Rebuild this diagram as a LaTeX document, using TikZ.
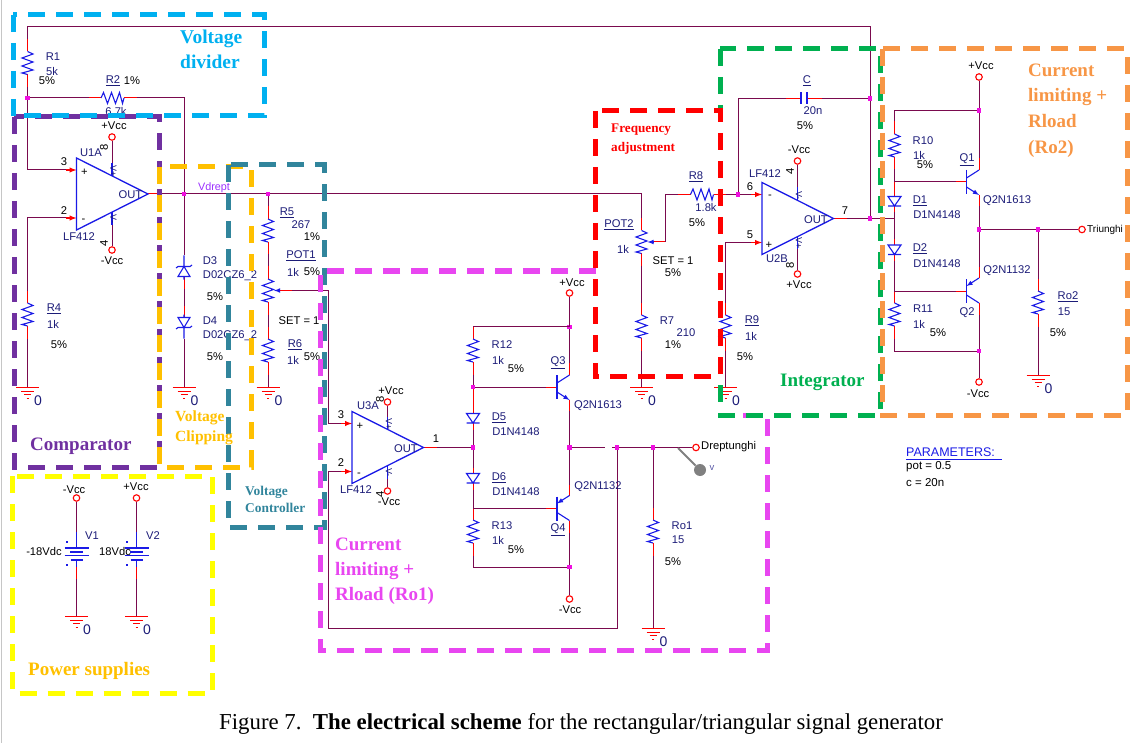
\documentclass[tikz,border=0pt]{standalone}
\usepackage{fontspec}
\setmainfont{Liberation Sans}
\newfontfamily\capfont{Liberation Serif}
\usetikzlibrary{arrows}

\definecolor{wirecol}{HTML}{7A0A4E}
\definecolor{compblue}{HTML}{1A1AE6}
\definecolor{labnavy}{HTML}{1C1C78}
\definecolor{dotcol}{HTML}{F010E0}
\definecolor{divcol}{HTML}{00B0F0}
\definecolor{cmpcol}{HTML}{7030A0}
\definecolor{clipcol}{HTML}{FFC000}
\definecolor{ctrlcol}{HTML}{31859C}
\definecolor{loadcol}{HTML}{E846F0}
\definecolor{supcol}{HTML}{FFFF00}
\definecolor{intcol}{HTML}{00B050}
\definecolor{rightcol}{HTML}{F79646}
\definecolor{netcol}{HTML}{9B30FF}

\begin{document}
\begin{tikzpicture}[x=1pt, y=-1pt,
  wire/.style={draw=wirecol, line width=1pt},
  lead/.style={draw=red, line width=1pt},
  comp/.style={draw=compblue, line width=1.1pt},
  pinlead/.style={draw=red, line width=1.4pt, ->, >=latex},
  term/.style={circle, draw=red, line width=1.1pt, fill=white, inner sep=0pt, minimum size=6.5pt},
  junc/.style={rectangle, fill=dotcol, inner sep=0pt, minimum size=4.5pt},
  lab/.style={text=labnavy, inner sep=0pt, font=\fontsize{11.2}{13}\selectfont},
  val/.style={text=black, inner sep=0pt, font=\fontsize{11.2}{13}\selectfont},
  regbox/.style={line width=5pt, dash pattern=on 17pt off 11pt},
  regtext/.style={anchor=west, inner sep=0pt, font=\capfont\bfseries\fontsize{#1}{#1}\selectfont},
  pics/resv/.style={code={
    \coordinate (-a) at (0,-24);
    \coordinate (-b) at (0,24);
    \draw[lead] (-a) -- (0,-11.5) (0,11.5) -- (-b);
    \draw[comp] (0,-11.5) -- (5.5,-9) -- (-5.5,-5) -- (5.5,-1) -- (-5.5,3) -- (5.5,7) -- (-5.5,10) -- (0,11.5);
  }},
  pics/resh/.style={code={
    \coordinate (-a) at (-24,0);
    \coordinate (-b) at (24,0);
    \draw[lead] (-a) -- (-11.5,0) (11.5,0) -- (-b);
    \draw[comp] (-11.5,0) -- (-9,-5.5) -- (-5,5.5) -- (-1,-5.5) -- (3,5.5) -- (7,-5.5) -- (10,5.5) -- (11.5,0);
  }},
  pics/potv/.style={code={
    \coordinate (-a) at (0,-24);
    \coordinate (-b) at (0,24);
    \coordinate (-w) at (24,0);
    \draw[lead] (-a) -- (0,-11.5) (0,11.5) -- (-b) (-w) -- (10,0);
    \draw[comp] (0,-11.5) -- (5.5,-9) -- (-5.5,-5) -- (5.5,-1) -- (-5.5,3) -- (5.5,7) -- (-5.5,10) -- (0,11.5);
    \draw[comp, ->, >=latex] (11,0) -- (6,0);
  }},
  pics/capac/.style={code={
    \coordinate (-a) at (-18,0);
    \coordinate (-b) at (18,0);
    \draw[lead] (-a) -- (-3,0) (3,0) -- (-b);
    \draw[comp] (-3,-6) -- (-3,6) (3,-6) -- (3,6);
  }},
  pics/diode/.style={code={
    \coordinate (-a) at (0,-11);
    \coordinate (-b) at (0,11);
    \draw[lead] (-a) -- (0,-5) (0,4.5) -- (-b);
    \draw[comp] (-6.5,-5) -- (6.5,-5) -- (0,4.5) -- cycle (-6.5,4.5) -- (6.5,4.5);
  }},
  pics/zener/.style={code={
    \coordinate (-n) at (0,-17);
    \coordinate (-k) at (0,16);
    \draw[lead] (-n) -- (0,-5);
    \draw[comp] (-6,-5) -- (6,-5) -- (0,5) -- cycle (0,5) -- (-k) (-8,6.5) -- (-6,5) -- (6,5) -- (8,3.5) (0,-5) -- (0,-8);
  }},
  pics/npn/.style={code={
    \coordinate (-b) at (-11,0);
    \coordinate (-c) at (12.5,-24);
    \coordinate (-e) at (12.5,24);
    \draw[lead] (-b) -- (0,0) (-c) -- (12.5,-12) (12.5,13) -- (-e);
    \draw[comp, line width=1.2pt] (0,-12) -- (0,12);
    \draw[comp] (0,-4) -- (12.5,-12);
    \draw[comp, ->, >=latex] (0,5) -- (12.5,13);
  }},
  pics/pnp/.style={code={
    \coordinate (-b) at (-11,0);
    \coordinate (-e) at (12.5,-24);
    \coordinate (-c) at (12.5,24);
    \draw[lead] (-b) -- (0,0) (-e) -- (12.5,-13) (12.5,12) -- (-c);
    \draw[comp, line width=1.2pt] (0,-12) -- (0,12);
    \draw[comp] (0,4) -- (12.5,12);
    \draw[comp, ->, >=latex] (12.5,-13) -- (0,-5);
  }},
  pics/opamp/.style 2 args={code={
    \coordinate (-i1) at (-11,-24);
    \coordinate (-i2) at (-11,24);
    \coordinate (-o) at (84.5,0);
    \coordinate (-vu) at (35.5,-31);
    \coordinate (-vd) at (35.5,31);
    \draw[pinlead] (-i1) -- (0,-24);
    \draw[pinlead] (-i2) -- (0,24);
    \draw[lead] (71.5,0) -- (-o);
    \draw[comp, line width=1.3pt] (0,-36) -- (0,36) -- (71.5,0) -- cycle;
    \draw[comp] (-vu) -- (35.5,-18) (-vd) -- (35.5,18);
    \node[lab] (-out) at (54,1) {OUT};
    \node[val] (-s1) at (8,-21.5) {#1};
    \node[val] (-s2) at (7,27) {#2};
    \node[lab, rotate=-90, font=\fontsize{9}{10}\selectfont] (-v1) at (37,-23) {V#1};
    \node[lab, rotate=-90, font=\fontsize{9}{10}\selectfont] (-v2) at (37,25) {V#2};
  }},
  pics/batt/.style={code={
    \coordinate (-a) at (0,-22);
    \coordinate (-b) at (0,25);
    \draw[comp] (-a) -- (0,-6) (-12,-6) -- (12,-6) (-6.5,-2) -- (6.5,-2) (-12,1.5) -- (12,1.5) (-6,6) -- (6,6) (0,6) -- (0,13);
    \draw[comp] (-10.5,-12) -- (-8.5,-12) (-10.5,11) -- (-8.5,11);
    \draw[lead] (0,13) -- (-b);
  }},
  pics/gnd/.style={code={
    \coordinate (-t) at (0,0);
    \draw[lead] (-11.5,0) -- (11.5,0) (-6.5,4) -- (6.5,4) (-3.5,7.5) -- (3.5,7.5) (-1,11) -- (1,11);
    \node[text=labnavy, inner sep=0pt, font=\fontsize{14}{14}\selectfont] (-n) at (10.5,14) {0};
  }}]

  \useasboundingbox (0,0) rectangle (1137,743);
  \draw[gray!45, line width=1.2pt] (1.5,0) -- (1.5,743);

  % Nets and junctions
  \coordinate (top-l) at (27.5,27);
  \coordinate (top-r) at (870,27);
  \coordinate (c3) at (328.5,290.5);
  \coordinate (c4) at (328.5,628);
  \coordinate (c5) at (617,628);
  \coordinate (c6) at (894.5,218.5);
  \coordinate (c7) at (894.5,110.5);
  \coordinate (cr) at (641.5,194);
  \coordinate (n1) at (894.5,182);
  \coordinate (n2) at (894.5,291);
  \coordinate (q4-n) at (473,508.5);
  \coordinate (g1) at (605,447.5);
  \coordinate (g2) at (612,447.5);
  \node[junc] (j-r1) at (27.5,98) {};
  \node[junc] (j-vd) at (184,194) {};
  \node[junc] (j-r5) at (268,194) {};
  \node[junc] (j-f) at (738,194.5) {};
  \node[junc] (j-fb) at (870,98.5) {};
  \node[junc] (j-out2) at (870,218.5) {};
  \node[junc] (j-d) at (473,447.5) {};
  \node[junc] (j-b) at (473,387) {};
  \node[junc] (j-t) at (569.5,327) {};
  \node[junc] (j-o) at (569.5,447.5) {};
  \node[junc] (j-m) at (569.5,567) {};
  \node[junc] (j-qr) at (617,447.5) {};
  \node[junc] (j-ro1) at (653,447.5) {};
  \node[junc] (j-r10) at (979,110.5) {};
  \node[junc] (j-tri) at (979,229.5) {};
  \node[junc] (j-ro2) at (1038,229.5) {};
  \node[junc] (j-m2) at (979,351) {};

  % Comparator and divider
  \pic (r1) at (27.5,63) {resv};
  \pic (r2) at (112.5,98) {resh};
  \pic (r4) at (27.5,314.5) {resv};
  \pic (u1a) at (76.5,194) {opamp={+}{-}};
  \pic (g-r4) at (27.5,387) {gnd};
  \node[term] (vcc-u1p) at (112,137) {};
  \node[term] (vcc-u1n) at (112,250) {};

  % Voltage clipping
  \pic[rotate=180] (d3) at (184,271.5) {zener};
  \pic (d4) at (184,322.5) {zener};
  \pic (g-d4) at (184,387) {gnd};

  % Voltage controller
  \pic (r5) at (268,230.5) {resv};
  \pic (pot1) at (268,290.5) {potv};
  \pic (r6) at (268,350.5) {resv};
  \pic (g-r6) at (268,387) {gnd};

  % Power supplies
  \node[term] (vcc-v1) at (76.5,498) {};
  \node[term] (vcc-v2) at (136.5,498) {};
  \pic (v1) at (76.5,554) {batt};
  \pic (v2) at (136.5,554) {batt};
  \pic (g-v1) at (76.5,616) {gnd};
  \pic (g-v2) at (136.5,616) {gnd};

  % First output stage
  \pic (u3a) at (352,447.5) {opamp={+}{-}};
  \node[term] (vcc-u3p) at (387.5,402) {};
  \node[term] (vcc-u3n) at (387.5,491) {};
  \pic (r12) at (473,350.5) {resv};
  \pic (r13) at (473,531.5) {resv};
  \pic (d5) at (473,418.5) {diode};
  \pic (d6) at (473,478.5) {diode};
  \pic (q3) at (557,387) {npn};
  \pic (q4) at (557,508.5) {pnp};
  \pic (ro1) at (653,531.5) {resv};
  \pic (g-ro1) at (653,628) {gnd};
  \node[term] (vcc-q3) at (569.5,293) {};
  \node[term] (vcc-q4) at (569.5,599) {};
  \node[term] (drept) at (696,447.5) {};

  % Frequency adjustment and integrator
  \pic (pot2) at (641.5,242) {potv};
  \pic (r7) at (641.5,326.5) {resv};
  \pic (g-r7) at (641.5,387) {gnd};
  \pic (r8) at (702,194.5) {resh};
  \pic (r9) at (725.5,326.5) {resv};
  \pic (g-r9) at (725.5,387) {gnd};
  \pic (c1) at (804,98.5) {capac};
  \pic (u2b) at (762,218.5) {opamp={-}{+}};
  \node[term] (vcc-u2n) at (797.5,161) {};
  \node[term] (vcc-u2p) at (797.5,274) {};

  % Second output stage
  \pic (r10) at (894.5,145.5) {resv};
  \pic (r11) at (894.5,314.5) {resv};
  \pic (d1) at (894.5,201.5) {diode};
  \pic (d2) at (894.5,250) {diode};
  \pic (q1) at (966.5,182) {npn};
  \pic (q2) at (966.5,291) {pnp};
  \pic (ro2) at (1038,302.5) {resv};
  \pic (g-ro2) at (1038,375) {gnd};
  \node[term] (vcc-q1) at (979,77) {};
  \node[term] (vcc-q2) at (979,382) {};
  \node[term] (tri) at (1082,229.5) {};

  \draw[wire] (r1-a) -- (top-l) -- (top-r) -- (j-fb) -- (j-out2);
  \draw[wire] (r1-b) -- (j-r1);
  \draw[wire] (j-r1) |- (u1a-i1);
  \draw[wire] (r4-a) |- (u1a-i2);
  \draw[wire] (r4-b) -- (g-r4-t);
  \draw[wire] (j-r1) -- (r2-a);
  \draw[wire] (r2-b) -| (j-vd);
  \draw[wire] (u1a-o) -- (j-vd) -- (j-r5) -- (cr) -- (pot2-a);
  \draw[wire] (vcc-u1p) -- (u1a-vu);
  \draw[wire] (vcc-u1n) -- (u1a-vd);
  \draw[wire] (j-vd) -- (d3-k);
  \draw[wire] (d3-n) -- (d4-n);
  \draw[wire] (d4-k) -- (g-d4-t);
  \draw[wire] (j-r5) -- (r5-a);
  \draw[wire] (r5-b) -- (pot1-a);
  \draw[wire] (pot1-b) -- (r6-a);
  \draw[wire] (r6-b) -- (g-r6-t);
  \draw[wire] (pot1-w) -- (c3) |- (u3a-i1);
  \draw[wire] (u3a-i2) -| (c4) -- (c5) -- (j-qr);
  \draw[wire] (vcc-v1) -- (v1-a);
  \draw[wire] (vcc-v2) -- (v2-a);
  \draw[wire] (v1-b) -- (g-v1-t);
  \draw[wire] (v2-b) -- (g-v2-t);
  \draw[wire] (vcc-u3p) -- (u3a-vu);
  \draw[wire] (vcc-u3n) -- (u3a-vd);
  \draw[wire] (u3a-o) -- (j-d);
  \draw[wire] (vcc-q3) -- (j-t) -- (q3-c);
  \draw[wire] (j-t) -- (r12-a -| j-t) -- (r12-a);
  \draw[wire] (r12-b) -- (j-b) -- (q3-b);
  \draw[lead] (j-b) -- (d5-a);
  \draw[wire] (d5-b) -- (j-d) -- (d6-a);
  \draw[wire] (d6-b) -- (q4-n) -- (q4-b);
  \draw[wire] (q4-n) -- (r13-a);
  \draw[wire] (r13-b) |- (j-m);
  \draw[wire] (q4-c) -- (j-m) -- (vcc-q4);
  \draw[wire] (q3-e) -- (j-o) -- (q4-e);
  \draw[wire] (j-o) -- (g1);
  \draw[wire] (g2) -- (j-qr) -- (j-ro1) -- (drept);
  \draw[wire] (j-ro1) -- (ro1-a);
  \draw[wire] (ro1-b) -- (g-ro1-t);
  \draw[wire] (pot2-b) -- (r7-a);
  \draw[wire] (r7-b) -- (g-r7-t);
  \draw[wire] (pot2-w) |- (r8-a);
  \draw[wire] (r8-b) -- (j-f) -- (u2b-i1);
  \draw[wire] (j-f) |- (c1-a);
  \draw[wire] (c1-b) -- (j-fb);
  \draw[wire] (u2b-i2) -| (r9-a);
  \draw[wire] (r9-b) -- (g-r9-t);
  \draw[wire] (vcc-u2n) -- (u2b-vu);
  \draw[wire] (vcc-u2p) -- (u2b-vd);
  \draw[wire] (u2b-o) -- (j-out2) -- (c6);
  \draw[wire] (vcc-q1) -- (j-r10) -- (q1-c);
  \draw[wire] (j-r10) -- (c7) -- (r10-a);
  \draw[wire] (r10-b) -- (n1) -- (q1-b);
  \draw[lead] (n1) -- (d1-a);
  \draw[wire] (d1-b) -- (d2-a);
  \draw[wire] (d2-b) -- (n2) -- (q2-b);
  \draw[wire] (n2) -- (r11-a);
  \draw[wire] (r11-b) |- (j-m2);
  \draw[wire] (q2-c) -- (j-m2) -- (vcc-q2);
  \draw[wire] (q1-e) -- (j-tri) -- (q2-e);
  \draw[wire] (j-tri) -- (j-ro2) -- (tri);
  \draw[wire] (j-ro2) -- (ro2-a);
  \draw[wire] (ro2-b) -- (g-ro2-t);

  % Probe
  \node[circle, fill=gray, inner sep=0pt, minimum size=12pt] (probe) at (700,470) {};
  \coordinate (probe-t) at (678,448);
  \draw[gray, line width=1.8pt] (probe-t) -- (probe);
  \node[text=gray!70!blue, inner sep=0pt, font=\fontsize{9.5}{10}\selectfont] (probe-v) at (712,468) {v};

  % Labels
  \node[lab] (t-r1) at (53,57) {R1};
  \node[lab] (t-r1v) at (52,71) {5k};
  \node[val] (t-r1p) at (47,81) {5\%};
  \node[lab] (t-r2) at (113,81) {\underline{R2}};
  \node[val] (t-r2p) at (132,81) {1\%};
  \node[lab] (t-r2v) at (116,111) {6.7k};
  \node[val] (t-vccu1p) at (114,126) {+Vcc};
  \node[lab] (t-u1a) at (91,153) {U1A};
  \node[val, rotate=90] (t-u18) at (104,147) {8};
  \node[val] (t-u13) at (64,162) {3};
  \node[val] (t-u12) at (64,211) {2};
  \node[lab] (t-u1l) at (79,237) {LF412};
  \node[val, rotate=90] (t-u14) at (104,243) {4};
  \node[val] (t-vccu1n) at (112,261) {-Vcc};
  \node[lab] (t-r4) at (54,309) {\underline{R4}};
  \node[lab] (t-r4v) at (53,324) {1k};
  \node[val] (t-r4p) at (59,345) {5\%};
  \node[text=netcol, inner sep=0pt, font=\fontsize{10.8}{12}\selectfont] (t-vdrept) at (214,188) {Vdrept};
  \node[lab] (t-d3) at (210,261) {D3};
  \node[lab] (t-d3v) at (230,276) {D02CZ6\_2};
  \node[val] (t-d3p) at (215,297) {5\%};
  \node[lab] (t-d4) at (210,321) {D4};
  \node[lab] (t-d4v) at (230,336) {D02CZ6\_2};
  \node[val] (t-d4p) at (215,357) {5\%};
  \node[lab] (t-r5) at (287,213) {\underline{R5}};
  \node[lab] (t-r5v) at (301,225) {267};
  \node[val] (t-r5p) at (312,237) {1\%};
  \node[lab] (t-pot1) at (301,256) {\underline{POT1}};
  \node[lab] (t-pot1v) at (293,272) {1k};
  \node[val] (t-pot1p) at (312,272) {5\%};
  \node[val] (t-set1) at (299,321) {SET = 1};
  \node[lab] (t-r6) at (295,345) {\underline{R6}};
  \node[lab] (t-r6v) at (293,360) {1k};
  \node[val] (t-r6p) at (312,357) {5\%};
  \node[val] (t-vccv1) at (74,490) {-Vcc};
  \node[val] (t-vccv2) at (136,487) {+Vcc};
  \node[lab] (t-v1) at (92,536) {V1};
  \node[lab] (t-v2) at (153,536) {V2};
  \node[val] (t-v1v) at (44,551) {-18Vdc};
  \node[val] (t-v2v) at (115,551) {18Vdc};
  \node[val] (t-vccu3p) at (391,391) {+Vcc};
  \node[lab] (t-u3a) at (368,406) {U3A};
  \node[val, rotate=90] (t-u38) at (380,399) {8};
  \node[val] (t-u33) at (341,415) {3};
  \node[val] (t-u32) at (341,463) {2};
  \node[val] (t-u31) at (436,439) {1};
  \node[lab] (t-u3l) at (356,490) {LF412};
  \node[val, rotate=90] (t-u34) at (380,494) {4};
  \node[val] (t-vccu3n) at (389,502) {-Vcc};
  \node[val] (t-vccq3) at (572,283) {+Vcc};
  \node[lab] (t-r12) at (502,345) {R12};
  \node[lab] (t-r12v) at (498,360) {1k};
  \node[val] (t-r12p) at (516,369) {5\%};
  \node[lab] (t-q3) at (558,363) {\underline{Q3}};
  \node[lab] (t-q3v) at (598,406) {Q2N1613};
  \node[lab] (t-d5) at (499,418) {\underline{D5}};
  \node[lab] (t-d5v) at (516,432) {D1N4148};
  \node[lab] (t-d6) at (499,478) {\underline{D6}};
  \node[lab] (t-d6v) at (516,492) {D1N4148};
  \node[lab] (t-q4v) at (598,487) {Q2N1132};
  \node[lab] (t-r13) at (502,526) {R13};
  \node[lab] (t-r13v) at (498,540) {1k};
  \node[val] (t-r13p) at (516,550) {5\%};
  \node[lab] (t-q4) at (558,530) {\underline{Q4}};
  \node[val] (t-vccq4) at (570,610) {-Vcc};
  \node[val, anchor=west] (t-drept) at (701,447) {Dreptunghi};
  \node[lab] (t-ro1) at (682,526) {Ro1};
  \node[lab] (t-ro1v) at (678,540) {15};
  \node[val] (t-ro1p) at (673,562) {5\%};
  \node[lab] (t-pot2) at (619,225) {\underline{POT2}};
  \node[lab] (t-pot2v) at (623,249) {1k};
  \node[val] (t-set2) at (673,261) {SET = 1};
  \node[val] (t-pot2p) at (673,273) {5\%};
  \node[lab] (t-r7) at (667,321) {R7};
  \node[lab] (t-r7v) at (686,333) {210};
  \node[val] (t-r7p) at (673,345) {1\%};
  \node[lab] (t-r8) at (696,177) {\underline{R8}};
  \node[lab] (t-r8v) at (706,207) {1.8k};
  \node[val] (t-r8p) at (697,223) {5\%};
  \node[lab] (t-r9) at (752,321) {\underline{R9}};
  \node[lab] (t-r9v) at (751,336) {1k};
  \node[val] (t-r9p) at (745,357) {5\%};
  \node[lab] (t-c) at (807,81) {\underline{C}};
  \node[lab] (t-cv) at (813,111) {20n};
  \node[val] (t-cp) at (805,126) {5\%};
  \node[val] (t-vccu2n) at (799,150) {-Vcc};
  \node[lab] (t-u2l) at (765,174) {LF412};
  \node[val, rotate=90] (t-u24) at (790,171) {4};
  \node[val] (t-u26) at (750,187) {6};
  \node[val] (t-u25) at (750,235) {5};
  \node[val] (t-u27) at (845,211) {7};
  \node[lab] (t-u2b) at (777,259) {U2B};
  \node[val, rotate=90] (t-u28) at (790,265) {8};
  \node[val] (t-vccu2p) at (799,285) {+Vcc};
  \node[val] (t-vccq1) at (981,66) {+Vcc};
  \node[lab] (t-r10) at (923,141) {R10};
  \node[lab] (t-r10v) at (919,155) {1k};
  \node[val] (t-r10p) at (925,165) {5\%};
  \node[lab] (t-q1) at (967,160) {\underline{Q1}};
  \node[lab] (t-q1v) at (1007,201) {Q2N1613};
  \node[lab] (t-d1) at (920,201) {\underline{D1}};
  \node[lab] (t-d1v) at (937,215) {D1N4148};
  \node[lab] (t-d2) at (920,249) {\underline{D2}};
  \node[lab] (t-d2v) at (937,264) {D1N4148};
  \node[val, anchor=west, font=\fontsize{10}{12}\selectfont] (t-tri) at (1087,230) {Triunghi};
  \node[lab] (t-q2v) at (1007,271) {Q2N1132};
  \node[lab] (t-r11) at (923,309) {R11};
  \node[lab] (t-r11v) at (919,324) {1k};
  \node[val] (t-r11p) at (938,333) {5\%};
  \node[lab] (t-q2) at (967,313) {Q2};
  \node[val] (t-vccq2) at (978,394) {-Vcc};
  \node[lab] (t-ro2) at (1068,297) {\underline{Ro2}};
  \node[lab] (t-ro2v) at (1064,312) {15};
  \node[val] (t-ro2p) at (1058,333) {5\%};
  \node[text=compblue, anchor=west, inner sep=0pt, font=\fontsize{12.5}{14}\selectfont] (t-par) at (906,452) {PARAMETERS:};
  \coordinate (par-a) at (906,459.5);
  \coordinate (par-b) at (1002,459.5);
  \draw[comp] (par-a) -- (par-b);
  \node[val, anchor=west, font=\fontsize{11.5}{13}\selectfont] (t-pot) at (906,467) {pot = 0.5};
  \node[val, anchor=west, font=\fontsize{11.5}{13}\selectfont] (t-cval) at (906,483) {c = 20n};

  % Functional blocks
  \draw[regbox, cmpcol] (14,117) rectangle (159,467);
  \draw[regbox, divcol] (13,15) rectangle (264,116);
  \draw[regbox, clipcol] (159,167) rectangle (251,467);
  \draw[regbox, ctrlcol] (228,165) rectangle (324,527);
  \draw[regbox, loadcol] (596,271) -- (320,271) -- (320,650) -- (767,650) -- (767,415) -- (721,415);
  \draw[regbox, supcol] (12.5,476) rectangle (212,693);
  \draw[regbox, intcol] (720,49) rectangle (880,415);
  \draw[regbox, red] (595,111) rectangle (720,376);
  \draw[regbox, rightcol] (882,49) rectangle (1127,415);

  \node[regtext=19.5, divcol] (b-div1) at (180,39) {Voltage};
  \node[regtext=19.5, divcol] (b-div2) at (180,62) {divider};
  \node[regtext=19, cmpcol] (b-cmp) at (30,446) {Comparator};
  \node[regtext=15.5, clipcol] (b-clip1) at (175,418) {Voltage};
  \node[regtext=15.5, clipcol] (b-clip2) at (175,438) {Clipping};
  \node[regtext=13.4, ctrlcol] (b-ctrl1) at (245,492) {Voltage};
  \node[regtext=13.4, ctrlcol] (b-ctrl2) at (245,508) {Controller};
  \node[regtext=19, clipcol] (b-sup) at (28,671) {Power supplies};
  \node[regtext=19, loadcol] (b-load1) at (335,544) {Current};
  \node[regtext=19, loadcol] (b-load2) at (335,571) {limiting +};
  \node[regtext=19, loadcol] (b-load3) at (335,596) {Rload (Ro1)};
  \node[regtext=13.2, red] (b-freq1) at (611,130) {Frequency};
  \node[regtext=13.2, red] (b-freq2) at (611,148) {adjustment};
  \node[regtext=19, intcol] (b-int) at (780,382) {Integrator};
  \node[regtext=19, rightcol] (b-right1) at (1028,70) {Current};
  \node[regtext=19, rightcol] (b-right2) at (1028,97) {limiting +};
  \node[regtext=19, rightcol] (b-right3) at (1028,121) {Rload};
  \node[regtext=19, rightcol] (b-right4) at (1028,149) {(Ro2)};

  \node[anchor=west, inner sep=0pt, font=\capfont\fontsize{22.8}{24}\selectfont] (caption) at (219,723.5)
    {Figure 7.~~\textbf{The electrical scheme} for the rectangular/triangular signal generator};

\end{tikzpicture}
\end{document}
